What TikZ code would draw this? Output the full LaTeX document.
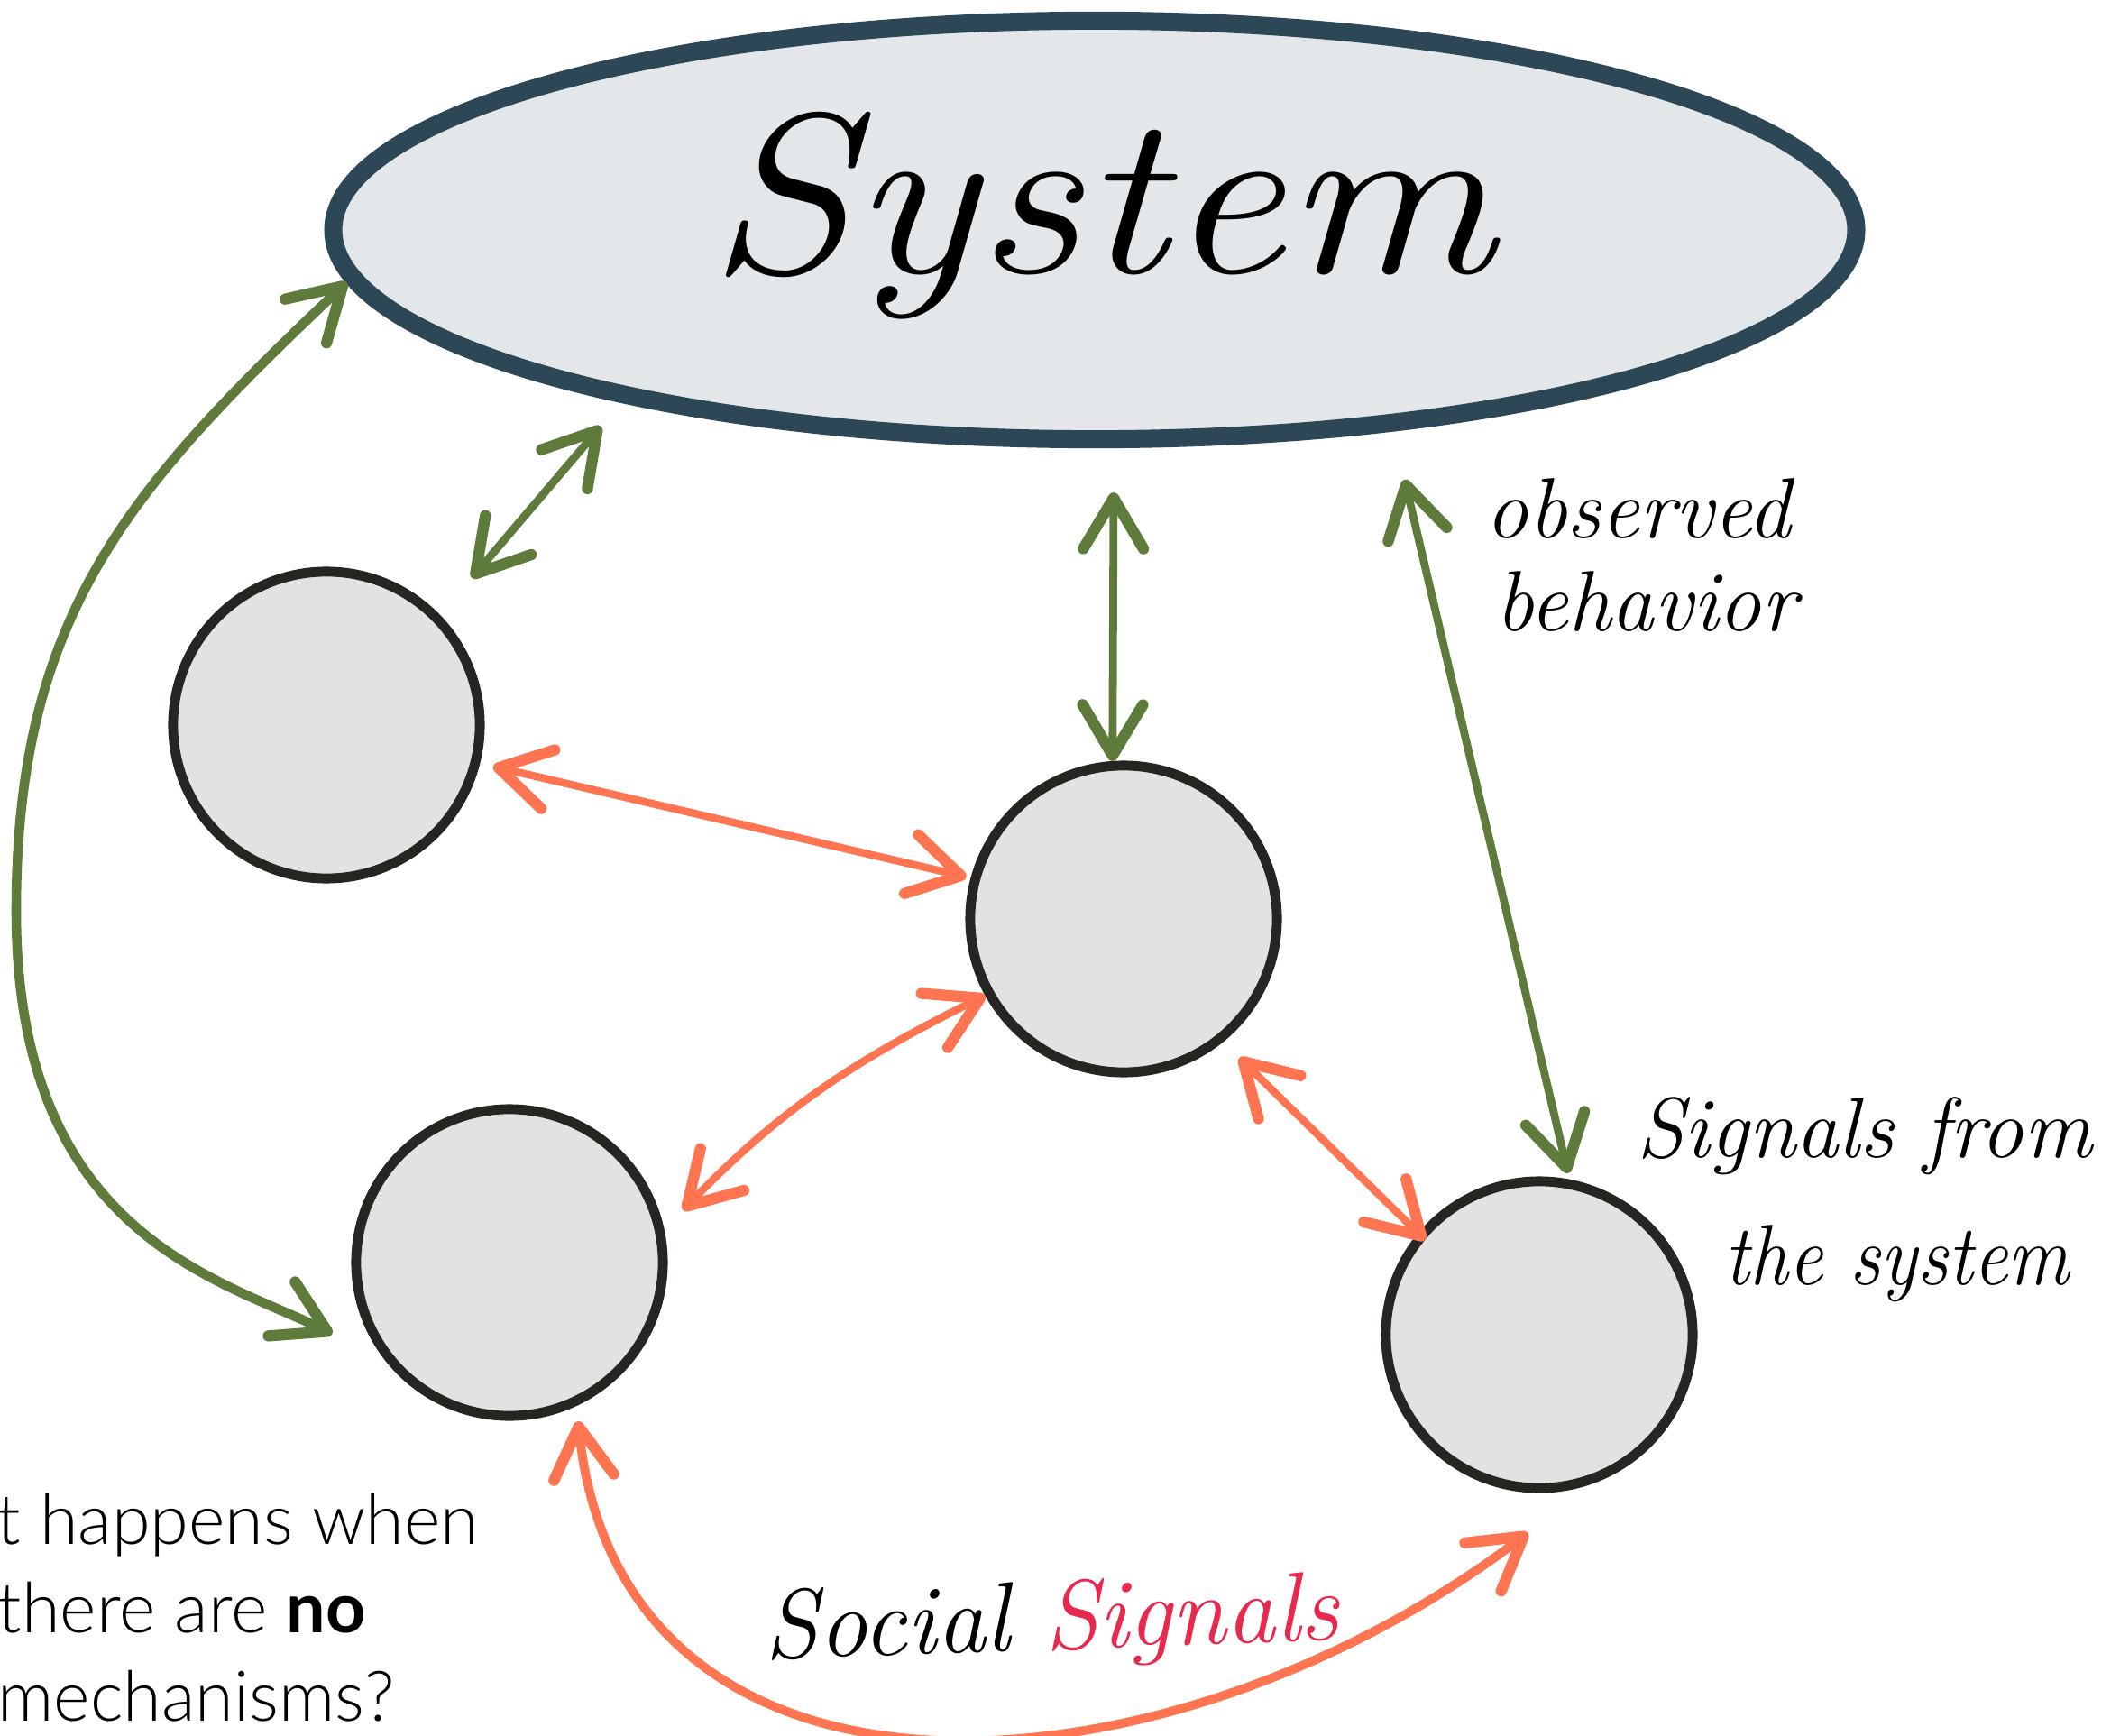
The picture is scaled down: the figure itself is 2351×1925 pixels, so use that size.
\documentclass[tikz,border=0pt]{standalone}
\usepackage{fontspec}
\usepackage{graphicx}
\newfontfamily\latofont{Lato Light}[BoldFont={Lato Bold}]
\usetikzlibrary{shapes.geometric,arrows.meta}
\definecolor{sysedge}{HTML}{2E4756}
\definecolor{sysfill}{HTML}{E4E7EA}
\definecolor{agentedge}{HTML}{272522}
\definecolor{agentfill}{HTML}{E2E2E2}
\definecolor{grn}{HTML}{5E7B3C}
\definecolor{orng}{HTML}{FF7552}
\definecolor{pinkred}{HTML}{E8294D}
\begin{document}
\begin{tikzpicture}[x=0.01cm,y=-0.01cm,
  sysnode/.style={ellipse, draw=sysedge, fill=sysfill, line width=5.7pt,
    minimum width=16.88cm, minimum height=4.64cm, inner sep=0pt},
  agent/.style={circle, draw=agentedge, fill=agentfill, line width=3.1pt,
    minimum size=3.4cm, inner sep=0pt},
  barbs/.style={>={Straight Barb[length=16pt,width=19pt,line width=3.5pt,round]}},
  garrow/.style={barbs, <->, draw=grn, line width=2.5pt, line cap=round},
  garrowthick/.style={garrow, line width=3pt},
  oarrow/.style={barbs, <->, draw=orng, line width=2.4pt, line cap=round},
  handtxt/.style={inner sep=0pt, anchor=base west},
  hand/.style={handtxt, font=\fontsize{27}{32}\selectfont\itshape},
  slide/.style={handtxt, font=\fontsize{22}{28}\selectfont\latofont},
]
\fill[white] (0,0) rectangle (2351,1925);
\useasboundingbox (0,0) rectangle (2351,1925);

% system
\node[sysnode] (sys) at (1214,255) {};
\node[handtxt, anchor=base, font=\fontsize{72}{80}\selectfont\itshape] (systxt) at (1221,303) {\scalebox{1.15}[1]{System}};

% agents
\node[agent] (c1) at (362,804) {};
\node[agent] (c2) at (1246,1019) {};
\node[agent] (c3) at (565,1400) {};
\node[agent] (c4) at (1707,1480) {};

% green links
\coordinate (gbend) at (18,1010);
\draw[garrowthick, shorten >=0.65cm] (sys.184) .. controls (145,540) and (18,680) .. (gbend)
   .. controls (18,1370) and (245,1418) .. (c3.218);
\draw[garrow, shorten <=0.35cm, shorten >=0.54cm] (sys.200) -- (c1.44);
\draw[garrow, shorten <=0.49cm] (sys.275) -- (c2.94);
\draw[garrow, shorten <=0.55cm, shorten >=0.07cm] (sys.326) -- (c4.79);

% orange links
\draw[oarrow, shorten <=0.15cm, shorten >=0.05cm] (c1.346) -- (c2.165);
\draw[oarrow, shorten >=0.3cm] (c2.209) to[bend right=10] (c3.12);
\draw[oarrow, shorten <=0.25cm, shorten >=-0.11cm] (c2.309) -- (c4.140);
\draw[oarrow, line width=2.8pt, shorten <=0.17cm, shorten >=0.91cm] (c3.295) .. controls (690,2040) and (1288,2007) .. (c4.290);

% labels
\node[hand] (ob1) at (1647,597) {observed};
\node[hand] (ob2) at (1658,700) {behavior};
\node[hand] (sf1) at (1815,1283) {Signals from};
\node[hand] (sf2) at (1912,1424) {\scalebox{0.9}[1]{the system}};
\node[handtxt, rotate=2, font=\fontsize{31}{36}\selectfont\itshape] (soc) at (848,1840) {Social \textcolor{pinkred}{Signals}};

\node[slide] (q1) at (-4,1712) {t happens when};
\node[slide] (q2) at (-3,1810) {there are \textbf{no}};
\node[slide] (q3) at (-3,1908) {mechanisms?};
\end{tikzpicture}
\end{document}
